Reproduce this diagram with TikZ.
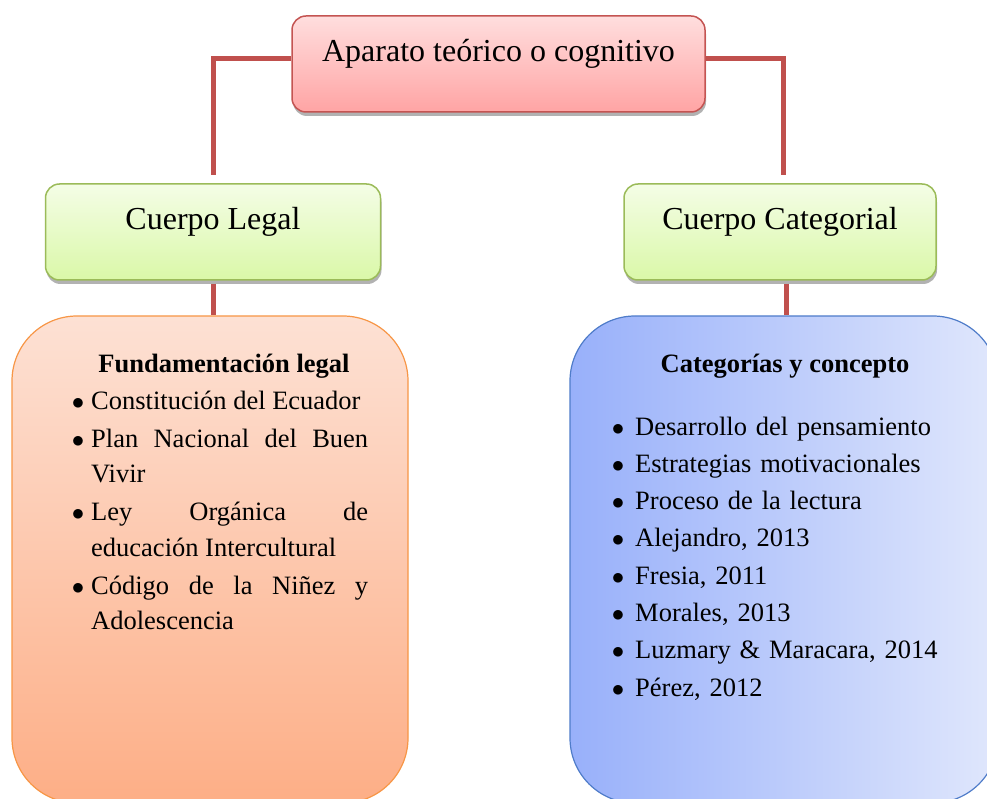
\documentclass[tikz,border=0pt]{standalone}
\usepackage{fontspec}
\setmainfont{Liberation Serif}
\usepackage{enumitem}
\usepackage{tikz}
\usetikzlibrary{shapes,positioning,shadows}
\definecolor{linkred}{RGB}{192, 80, 77}
\definecolor{pinktop}{RGB}{255, 222, 222}
\definecolor{pinkbot}{RGB}{255, 164, 164}
\definecolor{pinkdraw}{RGB}{196, 84, 82}
\definecolor{greentop}{RGB}{244, 253, 230}
\definecolor{greenbot}{RGB}{218, 248, 168}
\definecolor{greendraw}{RGB}{155, 187, 89}
\definecolor{peachtop}{RGB}{253, 225, 212}
\definecolor{peachbot}{RGB}{253, 174, 134}
\definecolor{peachdraw}{RGB}{247, 150, 70}
\definecolor{blueleft}{RGB}{152, 176, 250}
\definecolor{blueright}{RGB}{224, 231, 252}
\definecolor{bluedraw}{RGB}{79, 124, 201}
\newcommand{\headfont}{\fontsize{32}{38}\selectfont}
\newcommand{\bodyfont}{\fontsize{26.5}{35.5}\selectfont\hyphenpenalty=10000\exhyphenpenalty=10000\tolerance=9999\emergencystretch=20pt}
\tikzstyle{titlebox} = [rectangle, rounded corners=14pt, draw=pinkdraw, line width=1.5pt, top color=pinktop, bottom color=pinkbot, minimum width=413pt, minimum height=96pt, inner sep=0pt, text height=22pt, text depth=26pt, font=\headfont, drop shadow={shadow xshift=1pt, shadow yshift=-4pt, opacity=0.3, fill=black}]
\tikzstyle{legalbox} = [rectangle, rounded corners=14pt, draw=greendraw, line width=1.5pt, top color=greentop, bottom color=greenbot, minimum width=335pt, minimum height=96pt, inner sep=0pt, text height=22pt, text depth=26pt, font=\headfont, drop shadow={shadow xshift=1pt, shadow yshift=-4pt, opacity=0.3, fill=black}]
\tikzstyle{peachbox} = [rectangle, rounded corners=65pt, draw=peachdraw, line width=1.2pt, top color=peachtop, bottom color=peachbot, minimum width=396pt, minimum height=487pt]
\tikzstyle{bluebox} = [rectangle, rounded corners=65pt, draw=bluedraw, line width=1.2pt, left color=blueleft, right color=blueright, minimum width=428pt, minimum height=487pt]
\tikzstyle{heading} = [inner sep=0pt, font=\bodyfont\bfseries]
\tikzstyle{listtext} = [inner sep=0pt, font=\bodyfont]
\tikzstyle{link} = [draw=linkred, line width=5pt]

\begin{document}
\begin{tikzpicture}[x=1pt, y=-1pt]
\clip (0,0) rectangle (987,799);

% Top level =============================
\node[titlebox] (aparato) at (498.5,64) {Aparato teórico o cognitivo};

% Second level =============================
\node[legalbox] (legal) at (213,232) {Cuerpo Legal};
\node[legalbox, minimum width=312pt] (categorial) at (780,232) {Cuerpo Categorial};

% Content boxes =============================
\node[peachbox] (fundbox) at (210,559.5) {};
\node[bluebox] (catbox) at (784,559.5) {};

% left list
\node[heading, anchor=base] (fundtitle) at (224,372) {Fundamentación legal};
\node[listtext, anchor=base west, text width=295pt, align=justify] (fundlist) at (73,373.5) {%
\begin{itemize}[label=$\bullet$, leftmargin=18pt, labelsep=7pt, labelwidth=11pt, labelindent=0pt, itemsep=2.5pt, parsep=0pt, topsep=0pt, partopsep=0pt]
\item Constitución del Ecuador
\item Plan Nacional del Buen Vivir
\item Ley Orgánica de educación Intercultural
\item Código de la Niñez y Adolescencia
\end{itemize}};

% right list
\node[heading, anchor=base] (cattitle) at (785,372) {Categorías y concepto};
\node[listtext, anchor=base west, text width=360pt, align=left] (catlist) at (613,399.5) {%
\begin{itemize}[label=$\bullet$, leftmargin=22pt, labelsep=11pt, labelwidth=11pt, labelindent=0pt, itemsep=1.8pt, parsep=0pt, topsep=0pt, partopsep=0pt]
\item Desarrollo del pensamiento
\item Estrategias motivacionales
\item Proceso de la lectura
\item Alejandro, 2013
\item Fresia, 2011
\item Morales, 2013
\item Luzmary \& Maracara, 2014
\item Pérez, 2012
\end{itemize}};

% edges
\path[link] ([yshift=5pt]aparato.west) -| ([yshift=8pt]legal.north);
\path[link] ([yshift=5pt]aparato.east) -| ([xshift=3pt, yshift=8pt]categorial.north);
\path[link] ([yshift=-3pt]legal.south) -- (legal.south |- fundbox.north);
\path[link] ([xshift=6pt, yshift=-3pt]categorial.south) -- ([xshift=6pt]categorial.south |- catbox.north);

\end{tikzpicture}
\end{document}
